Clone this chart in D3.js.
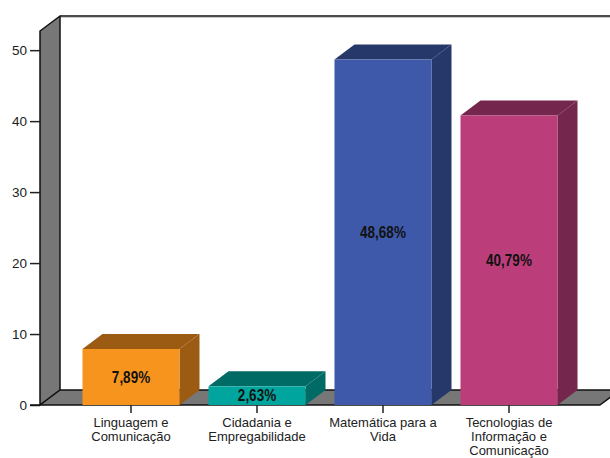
<!DOCTYPE html>
<html>
<head>
<meta charset="utf-8">
<script src="https://cdn.jsdelivr.net/npm/d3@7"></script>
<style>
  html, body { margin: 0; padding: 0; background: #fff; }
</style>
</head>
<body>
<div id="chart"></div>
<script>
// categorias e percentagens
let categories = ['Linguagem e Comunicação', 'Cidadania e Empregabilidade', 'Matemática para a Vida', 'Tecnologias de Informação e Comunicação'];
let values = [7.89, 2.63, 48.68, 40.79];
let labels = ['7,89%', '2,63%', '48,68%', '40,79%'];
let yTicks = [0, 10, 20, 30, 40, 50];
let frontColors = ['#f7941e', '#00a69e', '#3f59aa', '#bb3e7b'];
let sideColors = ['#9b5b13', '#006a65', '#26376a', '#74264c'];

let width = 610,
  height = 458;

// profundidade 3D
let dx = 20,
  dy = 15;

let left = 40,
  right = 600,
  bottom = 405;

let x = d3.scaleBand()
  .domain(categories)
  .range([68, 572])
  .paddingInner(0.23)
  .paddingOuter(0.115);

let y = d3.scaleLinear()
  .domain([0, 52.7])
  .range([bottom, 31]);

function chart() {
  const svg = d3.select('#chart').append('svg')
    .attr('width', width)
    .attr('height', height)
    .style('font-family', '"Liberation Sans", Arial, sans-serif');

  const top = y.range()[1];
  const wallFill = '#777777';

  // parede do fundo
  svg.append('rect')
    .attr('x', left + dx)
    .attr('y', top - dy)
    .attr('width', width)
    .attr('height', bottom - top)
    .attr('fill', 'white');
  svg.append('line')
    .attr('x1', left + dx).attr('x2', width)
    .attr('y1', top - dy).attr('y2', top - dy)
    .attr('stroke', '#111').attr('stroke-width', 1.5);
  svg.append('line')
    .attr('x1', left + dx).attr('x2', width)
    .attr('y1', top - dy + 1.5).attr('y2', top - dy + 1.5)
    .attr('stroke', '#ccc').attr('stroke-width', 1);

  // parede esquerda
  svg.append('path')
    .attr('d', `M${left},${top}L${left + dx},${top - dy}L${left + dx},${bottom - dy}L${left},${bottom}Z`)
    .attr('fill', wallFill)
    .attr('stroke', '#111')
    .attr('stroke-width', 1.5)
    .attr('stroke-linejoin', 'round');

  // chão
  svg.append('path')
    .attr('d', `M${left},${bottom}L${left + dx},${bottom - dy}L${right + dx},${bottom - dy}L${right},${bottom}Z`)
    .attr('fill', wallFill)
    .attr('stroke', '#111')
    .attr('stroke-width', 1.5)
    .attr('stroke-linejoin', 'round');

  // eixo y
  const yAxis = svg.append('g')
    .attr('transform', `translate(${left},0)`)
    .call(d3.axisLeft(y).tickValues(yTicks).tickSize(10).tickSizeOuter(0).tickPadding(3));
  yAxis.select('.domain').remove();
  yAxis.selectAll('line').attr('stroke', '#222').attr('stroke-width', 1.5);
  yAxis.selectAll('text')
    .attr('fill', '#222')
    .style('font-size', '13.5px')
    .style('font-family', '"Liberation Sans", Arial, sans-serif');

  svg.append('line')
    .attr('x1', left - 10).attr('x2', left)
    .attr('y1', bottom).attr('y2', bottom)
    .attr('stroke', '#111').attr('stroke-width', 1.5);

  const data = categories.map((c, i) => ({
    name: c,
    value: values[i],
    label: labels[i],
    front: frontColors[i],
    side: sideColors[i]
  }));

  const bars = svg.selectAll('g.bar')
    .data(data)
    .enter().append('g')
    .attr('class', 'bar');

  const bw = x.bandwidth();

  // face de cima
  bars.append('path')
    .attr('d', d => {
      const x0 = x(d.name), y0 = y(d.value);
      return `M${x0},${y0}L${x0 + dx},${y0 - dy}L${x0 + bw + dx},${y0 - dy}L${x0 + bw},${y0}Z`;
    })
    .attr('fill', d => d.side);

  // face lateral
  bars.append('path')
    .attr('d', d => {
      const x1 = x(d.name) + bw, y0 = y(d.value);
      return `M${x1},${y0}L${x1 + dx},${y0 - dy}L${x1 + dx},${bottom - dy}L${x1},${bottom}Z`;
    })
    .attr('fill', d => d.side);

  // face da frente
  bars.append('rect')
    .attr('x', d => x(d.name))
    .attr('y', d => y(d.value))
    .attr('width', bw)
    .attr('height', d => bottom - y(d.value))
    .attr('fill', d => d.front);

  // rótulos das barras, um pouco estreitos como no original
  bars.append('text')
    .attr('transform', d => `translate(${x(d.name) + bw / 2},${(y(d.value) + bottom) / 2}) scale(0.9,1.05)`)
    .attr('dy', '0.36em')
    .attr('text-anchor', 'middle')
    .style('font-family', '"Liberation Sans", Arial, sans-serif')
    .style('font-weight', 'bold')
    .style('font-size', '15px')
    .attr('fill', '#111')
    .text(d => d.label);

  // eixo x
  const xAxis = svg.append('g')
    .attr('transform', `translate(0,${bottom})`)
    .call(d3.axisBottom(x).tickSize(8).tickSizeOuter(0).tickPadding(5));
  xAxis.select('.domain').remove();
  xAxis.selectAll('line').attr('stroke', '#222').attr('stroke-width', 1.5);
  xAxis.selectAll('text')
    .attr('fill', '#222')
    .style('font-size', '13px')
    .style('font-family', '"Liberation Sans", Arial, sans-serif')
    .call(wrap, x.step());

  return svg.node();
}

// quebra de linha dos rótulos
function wrap(text, w) {
  text.each(function () {
    const t = d3.select(this);
    const words = t.text().split(/\s+/);
    const y0 = t.attr('y');
    t.text(null);
    let line = [];
    let lineNo = 0;
    let tspan = t.append('tspan').attr('x', 0).attr('y', y0).attr('dy', '0.71em');
    words.forEach(word => {
      line.push(word);
      tspan.text(line.join(' '));
      if (tspan.node().getComputedTextLength() > w && line.length > 1) {
        line.pop();
        tspan.text(line.join(' '));
        line = [word];
        lineNo++;
        tspan = t.append('tspan').attr('x', 0).attr('y', y0)
          .attr('dy', (0.71 + lineNo * 1.06) + 'em')
          .text(word);
      }
    });
  });
}

chart();
</script>
</body>
</html>
